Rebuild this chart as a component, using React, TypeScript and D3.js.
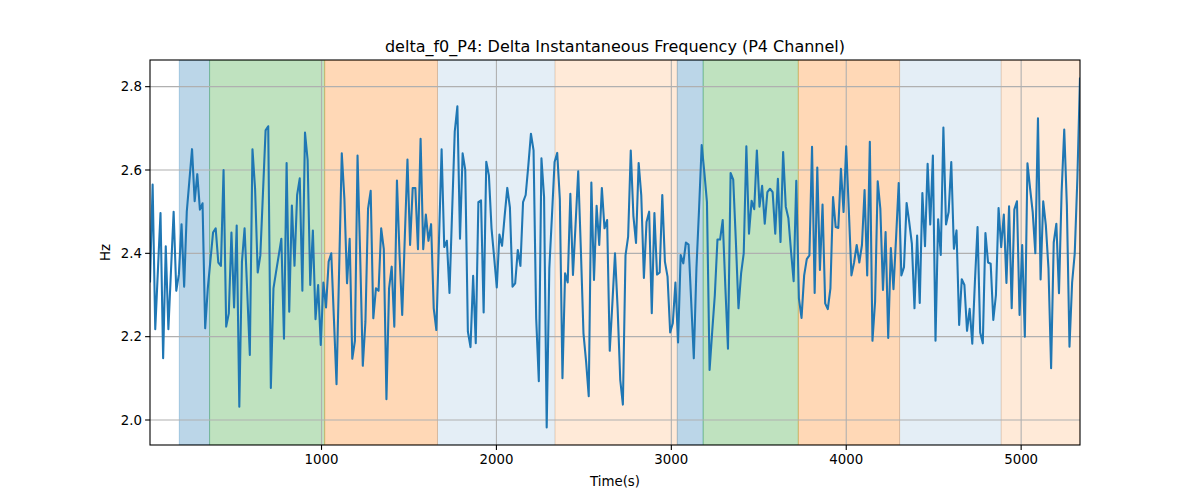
//@ts-nocheck
import * as d3 from "d3";

// delta f0, P4 channel, one value per sample
const values = [
  2.33, 2.565, 2.218, 2.358, 2.497, 2.148, 2.417, 2.218, 2.36, 2.5,
  2.31, 2.35, 2.47, 2.32, 2.5, 2.575, 2.65, 2.525, 2.59, 2.505,
  2.52, 2.22, 2.316, 2.383, 2.45, 2.46, 2.378, 2.37, 2.6, 2.224,
  2.256, 2.45, 2.27, 2.467, 2.032, 2.38, 2.46, 2.31, 2.156, 2.65,
  2.555, 2.354, 2.395, 2.545, 2.695, 2.705, 2.077, 2.316, 2.356, 2.395,
  2.435, 2.195, 2.617, 2.26, 2.515, 2.37, 2.54, 2.58, 2.31, 2.69,
  2.624, 2.324, 2.455, 2.242, 2.324, 2.18, 2.33, 2.27, 2.38, 2.4,
  2.244, 2.086, 2.364, 2.64, 2.53, 2.328, 2.435, 2.147, 2.19, 2.635,
  2.395, 2.13, 2.236, 2.507, 2.55, 2.244, 2.316, 2.31, 2.46, 2.41,
  2.05, 2.316, 2.368, 2.224, 2.575, 2.395, 2.252, 2.44, 2.625, 2.42,
  2.557, 2.557, 2.41, 2.675, 2.41, 2.493, 2.43, 2.47, 2.268, 2.216,
  2.43, 2.65, 2.415, 2.43, 2.305, 2.5, 2.692, 2.753, 2.435, 2.64,
  2.6, 2.212, 2.175, 2.346, 2.184, 2.523, 2.527, 2.258, 2.62, 2.587,
  2.46, 2.39, 2.318, 2.445, 2.418, 2.49, 2.557, 2.51, 2.32, 2.328,
  2.408, 2.37, 2.523, 2.54, 2.61, 2.687, 2.647, 2.244, 2.093, 2.628,
  2.535, 1.982, 2.364, 2.49, 2.619, 2.641, 2.53, 2.1, 2.352, 2.33,
  2.543, 2.348, 2.47, 2.597, 2.41, 2.208, 2.14, 2.057, 2.57, 2.336,
  2.514, 2.42, 2.557, 2.46, 2.48, 2.166, 2.28, 2.4, 2.268, 2.096,
  2.037, 2.395, 2.44, 2.647, 2.49, 2.425, 2.617, 2.539, 2.341, 2.475,
  2.5, 2.256, 2.497, 2.349, 2.354, 2.54, 2.38, 2.344, 2.21, 2.232,
  2.33, 2.186, 2.396, 2.376, 2.426, 2.421, 2.285, 2.148, 2.364, 2.507,
  2.66, 2.595, 2.523, 2.12, 2.212, 2.3, 2.433, 2.433, 2.48, 2.32,
  2.171, 2.593, 2.577, 2.43, 2.268, 2.352, 2.4, 2.657, 2.447, 2.526,
  2.506, 2.647, 2.512, 2.562, 2.471, 2.547, 2.555, 2.547, 2.447, 2.579,
  2.427, 2.643, 2.512, 2.484, 2.405, 2.333, 2.574, 2.292, 2.245, 2.347,
  2.386, 2.395, 2.656, 2.305, 2.606, 2.36, 2.517, 2.28, 2.266, 2.316,
  2.535, 2.463, 2.461, 2.603, 2.499, 2.657, 2.504, 2.347, 2.378, 2.42,
  2.378, 2.42, 2.552, 2.347, 2.668, 2.19, 2.284, 2.573, 2.507, 2.312,
  2.451, 2.197, 2.413, 2.314, 2.439, 2.569, 2.347, 2.367, 2.521, 2.475,
  2.423, 2.268, 2.443, 2.281, 2.545, 2.417, 2.615, 2.469, 2.635, 2.19,
  2.482, 2.396, 2.702, 2.469, 2.499, 2.619, 2.411, 2.455, 2.228, 2.338,
  2.324, 2.214, 2.267, 2.183, 2.332, 2.463, 2.21, 2.184, 2.449, 2.378,
  2.375, 2.24, 2.3, 2.509, 2.415, 2.493, 2.329, 2.513, 2.268, 2.505,
  2.525, 2.252, 2.42, 2.2, 2.616, 2.556, 2.499, 2.4, 2.724, 2.337,
  2.525, 2.467, 2.364, 2.124, 2.426, 2.471, 2.304, 2.547, 2.697, 2.515,
  2.176, 2.33, 2.4, 2.58, 2.822,
];
const tStart = 19.4;
const tStep = 15.02;

// shaded phases
const spanStart = [187, 360, 1018, 1663, 2335, 3034, 3182, 3726, 4305, 4886];
const spanEnd = [360, 1018, 1663, 2335, 3034, 3182, 3726, 4305, 4886, 5337];
const spanKind = ["blue", "green", "orange", "lightblue", "lightorange",
  "blue", "green", "orange", "lightblue", "lightorange"];

const xTicks = [1000, 2000, 3000, 4000, 5000];
const yTicks = [2.0, 2.2, 2.4, 2.6, 2.8];

const kindStyle = {
  blue: { fill: "#1f77b4", op: 0.3 },
  green: { fill: "#2ca02c", op: 0.3 },
  orange: { fill: "#ff7f0e", op: 0.3 },
  lightblue: { fill: "#1f77b4", op: 0.12 },
  lightorange: { fill: "#ff7f0e", op: 0.16 },
};

const W = 1200, H = 500;
const mL = 150, mR = 1080, mT = 60, mB = 445;
const font = "DejaVu Sans, sans-serif";

export default function App() {
  const times = values.map((_, i) => tStart + i * tStep);
  const x = d3.scaleLinear([tStart, times[times.length - 1]], [mL, mR]);
  const lo = d3.min(values), hi = d3.max(values);
  const pad = (hi - lo) * 0.05;
  const y = d3.scaleLinear([lo - pad, hi + pad], [mB, mT]);
  const line = d3.line((d, i) => x(times[i]), (d) => y(d));

  return (
    <svg width={W} height={H} style={{ position: "absolute", left: 0, top: 0 }} fontFamily={font}>
      <rect width={W} height={H} fill="white" />
      <defs>
        <clipPath id="plot">
          <rect x={mL} y={mT} width={mR - mL} height={mB - mT} />
        </clipPath>
      </defs>
      <g clipPath="url(#plot)">
        {spanStart.map((s, i) => {
          const st = kindStyle[spanKind[i]];
          return (
            <rect key={i} x={x(s)} y={mT} width={x(spanEnd[i]) - x(s)} height={mB - mT}
              fill={st.fill} fillOpacity={st.op} stroke={st.fill} strokeOpacity={st.op} strokeWidth={1} />
          );
        })}
        {xTicks.map((t) => (
          <line key={t} x1={x(t)} x2={x(t)} y1={mT} y2={mB} stroke="#b0b0b0" strokeWidth={1.1} />
        ))}
        {yTicks.map((t) => (
          <line key={t} x1={mL} x2={mR} y1={y(t)} y2={y(t)} stroke="#b0b0b0" strokeWidth={1.1} />
        ))}
        <path d={line(values)} fill="none" stroke="#1f77b4" strokeWidth={2.08} strokeLinejoin="round" />
      </g>
      <rect x={mL} y={mT} width={mR - mL} height={mB - mT} fill="none" stroke="black" strokeWidth={1.1} />
      {xTicks.map((t) => (
        <g key={t}>
          <line x1={x(t)} x2={x(t)} y1={mB} y2={mB + 4.9} stroke="black" strokeWidth={1.1} />
          <text x={x(t)} y={mB + 19} textAnchor="middle" fontSize={13.33}>{t}</text>
        </g>
      ))}
      {yTicks.map((t) => (
        <g key={t}>
          <line x1={mL - 4.9} x2={mL} y1={y(t)} y2={y(t)} stroke="black" strokeWidth={1.1} />
          <text x={mL - 8} y={y(t) + 4.8} textAnchor="end" fontSize={13.33}>{t.toFixed(1)}</text>
        </g>
      ))}
      <text x={(mL + mR) / 2} y={52} textAnchor="middle" fontSize={16}>
        delta_f0_P4: Delta Instantaneous Frequency (P4 Channel)
      </text>
      <text x={(mL + mR) / 2} y={486} textAnchor="middle" fontSize={13.33}>Time(s)</text>
      <text transform={`translate(110,${(mT + mB) / 2}) rotate(-90)`} textAnchor="middle" fontSize={13.33}>Hz</text>
    </svg>
  );
}
